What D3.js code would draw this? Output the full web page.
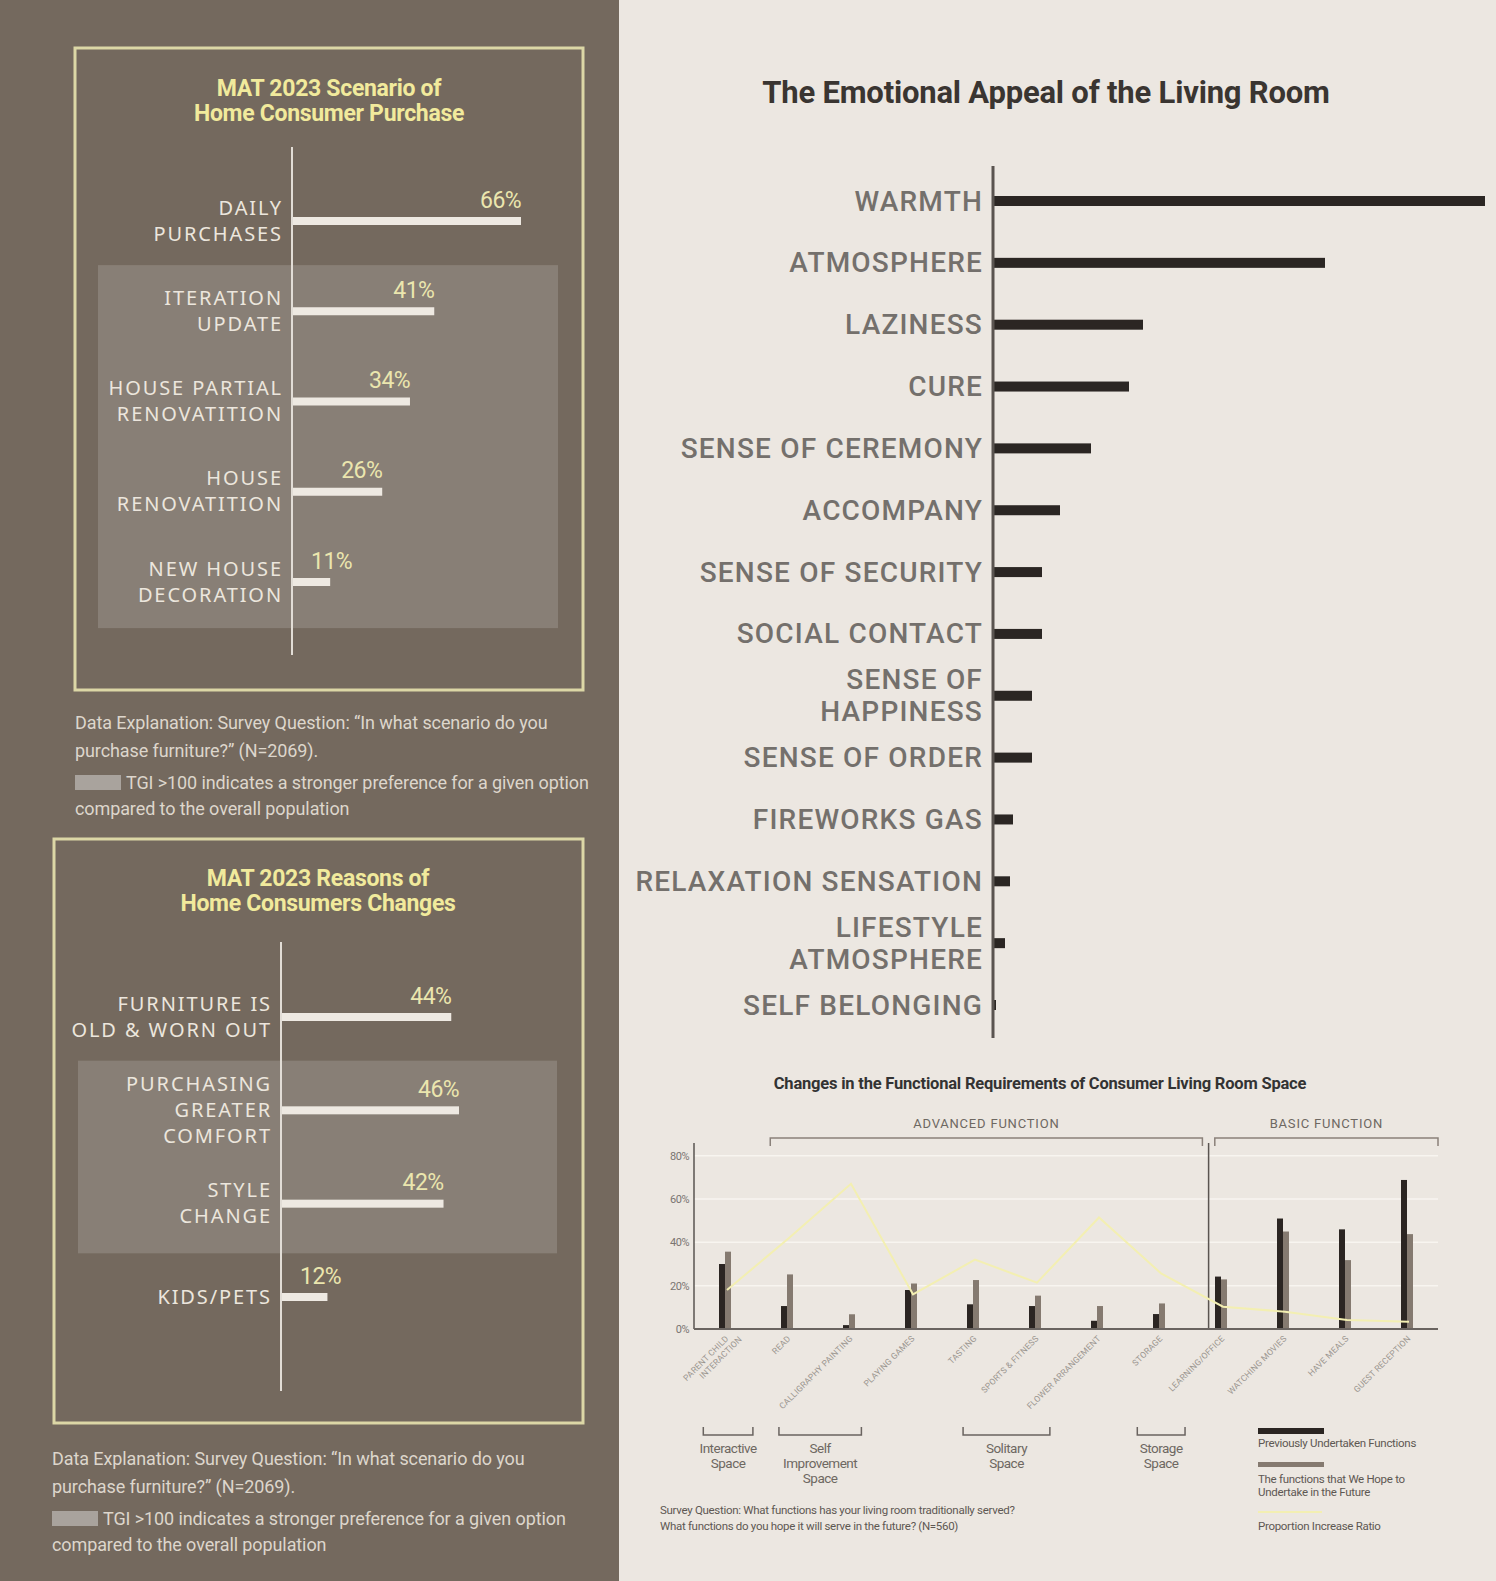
<!DOCTYPE html>
<html><head><meta charset="utf-8">
<script src="https://cdn.jsdelivr.net/npm/d3@7"></script>
<style>body{margin:0;background:#ece7e1} svg{display:block}</style>
</head><body><svg id="c" width="1496" height="1581"></svg>
<script>
// ---------- DATA ----------
const purchaseCategories = [["DAILY","PURCHASES"],["ITERATION","UPDATE"],["HOUSE PARTIAL","RENOVATITION"],["HOUSE","RENOVATITION"],["NEW HOUSE","DECORATION"]];
const purchaseValues = [66,41,34,26,11];
const purchaseTGI = [false,true,true,true,true];

const changeCategories = [["FURNITURE IS","OLD & WORN OUT"],["PURCHASING","GREATER","COMFORT"],["STYLE","CHANGE"],["KIDS/PETS"]];
const changeValues = [44,46,42,12];
const changeTGI = [false,true,true,false];

const emotionCategories = [["WARMTH"],["ATMOSPHERE"],["LAZINESS"],["CURE"],["SENSE OF CEREMONY"],["ACCOMPANY"],["SENSE OF SECURITY"],["SOCIAL CONTACT"],["SENSE OF","HAPPINESS"],["SENSE OF ORDER"],["FIREWORKS GAS"],["RELAXATION SENSATION"],["LIFESTYLE","ATMOSPHERE"],["SELF BELONGING"]];
const emotionValues = [49.2,33.2,15.0,13.6,9.8,6.7,4.9,4.9,3.9,3.9,2.0,1.7,1.2,0.3];

const functionCategories = [["PARENT CHILD","INTERACTION"],["READ"],["CALLIGRAPHY PAINTING"],["PLAYING GAMES"],["TASTING"],["SPORTS & FITNESS"],["FLOWER ARRANGEMENT"],["STORAGE"],["LEARNING/OFFICE"],["WATCHING MOVIES"],["HAVE MEALS"],["GUEST RECEPTION"]];
const previousValues = [30,10.6,1.8,18,11.4,10.6,3.8,6.9,24.2,51,46,68.8];
const futureValues   = [35.7,25.2,6.8,21,22.6,15.4,10.6,11.8,22.9,45,31.8,43.8];
const increaseRatio  = [18,42,67,16,32,21.4,51.5,25.7,10.3,8,4.2,3.4];
const yTicks = [0,20,40,60,80];
const functionGroups = [{name:"ADVANCED FUNCTION",from:0.73,to:7.7},{name:"BASIC FUNCTION",from:7.9,to:11.5}];
const spaceGroups = [{name:["Interactive","Space"],from:-0.35,to:0.45},{name:["Self","Improvement","Space"],from:0.87,to:2.2},{name:["Solitary","Space"],from:3.84,to:5.24},{name:["Storage","Space"],from:6.65,to:7.42}];

// ---------- DRAW ----------
const svg = d3.select("#c");
const LEFT_BG="#74695e", FRAME="#dcd7a6", YEL="#f1ea9c", LIGHT="#ece6dd";

svg.append("rect").attr("x",0).attr("y",0).attr("width",1496).attr("height",1581).attr("fill","#ece7e1");
svg.append("rect").attr("x",0).attr("y",0).attr("width",619).attr("height",1581).attr("fill",LEFT_BG);

function leftPanel(o){
  const g = svg.append("g");
  const y = d3.scalePoint().domain(d3.range(o.cats.length)).range(o.yRange);
  const step = y.step();
  const x = d3.scaleLinear().domain([0,o.maxV]).range([o.axisX,o.maxX]);
  const hi = o.tgi.map((d,i)=>d?i:-1).filter(i=>i>=0);
  g.append("rect").attr("x",o.box[0]).attr("width",o.box[1]-o.box[0])
    .attr("y",y(hi[0])-step*0.5-o.boxPad).attr("height",y(hi[hi.length-1])-y(hi[0])+step+o.boxPad*2)
    .attr("fill","rgba(255,255,255,0.15)");
  g.append("rect").attr("x",o.frame[0]).attr("y",o.frame[1]).attr("width",o.frame[2]-o.frame[0]).attr("height",o.frame[3]-o.frame[1])
    .attr("fill","none").attr("stroke",FRAME).attr("stroke-width",3);
  o.title.forEach((t,i)=>g.append("text").attr("x",o.titleX).attr("y",o.titleY+i*25).attr("text-anchor","middle")
    .attr("dominant-baseline","central").attr("font-family","Roboto").attr("font-weight",700).attr("font-size",23)
    .attr("letter-spacing",-0.3).attr("fill",YEL).text(t));
  g.append("line").attr("x1",o.axisX).attr("x2",o.axisX).attr("y1",o.axisY[0]).attr("y2",o.axisY[1]).attr("stroke","#e2ddd6").attr("stroke-width",2);
  g.selectAll(".bar").data(o.vals).join("rect").attr("x",o.axisX+1).attr("y",(d,i)=>y(i)-4)
    .attr("width",d=>x(d)-o.axisX-1).attr("height",8).attr("fill","#eee9e2");
  g.selectAll(".val").data(o.vals).join("text").attr("x",d=>Math.max(x(d),o.axisX+60)).attr("y",(d,i)=>y(i)-21)
    .attr("text-anchor","end").attr("dominant-baseline","central").attr("font-family","Roboto").attr("font-size",23)
    .attr("letter-spacing",-0.6).attr("fill","#ebe6ae").text(d=>d+"%");
  o.cats.forEach((lines,i)=>{
    const n=lines.length, lh=26;
    lines.forEach((t,j)=>g.append("text").attr("x",o.axisX-9).attr("y",y(i)-1+(j-(n-1)/2)*lh)
      .attr("text-anchor","end").attr("dominant-baseline","central").attr("font-family","Noto Sans").attr("font-size",20)
      .attr("letter-spacing",1.9).attr("fill",LIGHT).text(t));
  });
  const ex = o.expl;
  const tx = (xx,yy,t)=>g.append("text").attr("x",xx).attr("y",yy).attr("dominant-baseline","central").attr("font-family","Roboto")
     .attr("font-size",18).attr("letter-spacing",-0.1).attr("fill","#ddd6cc").text(t);
  tx(ex[0],ex[1],"Data Explanation: Survey Question: \u201cIn what scenario do you");
  tx(ex[0],ex[1]+28,"purchase furniture?\u201d (N=2069).");
  g.append("rect").attr("x",ex[0]).attr("y",ex[1]+53).attr("width",46).attr("height",15).attr("fill","#a9a39d");
  tx(ex[0]+51,ex[1]+60,"TGI >100 indicates a stronger preference for a given option");
  tx(ex[0],ex[1]+86,"compared to the overall population");
}

leftPanel({cats:purchaseCategories,vals:purchaseValues,tgi:purchaseTGI,yRange:[221,582],maxV:66,axisX:292,maxX:521,
  box:[98,558],boxPad:1,frame:[75,48,583,690],title:["MAT 2023 Scenario of","Home Consumer Purchase"],titleX:329,titleY:88,
  axisY:[147,655],expl:[75,722]});
leftPanel({cats:changeCategories,vals:changeValues,tgi:changeTGI,yRange:[1017,1297],maxV:46,axisX:281,maxX:459,
  box:[78,557],boxPad:3,frame:[54,839,583,1423],title:["MAT 2023 Reasons of","Home Consumers Changes"],titleX:318,titleY:878,
  axisY:[942,1391],expl:[52,1458]});

// ---------- EMOTIONAL APPEAL ----------
(function(){
  const g = svg.append("g");
  g.append("text").attr("x",1046).attr("y",92).attr("text-anchor","middle").attr("dominant-baseline","central")
    .attr("font-family","Roboto").attr("font-weight",700).attr("font-size",31).attr("letter-spacing",-0.2).attr("fill","#3a3531")
    .text("The Emotional Appeal of the Living Room");
  const ax = 993;
  const x = d3.scaleLinear().domain([0,emotionValues[0]]).range([ax,1485]);
  const y = d3.scalePoint().domain(d3.range(emotionCategories.length)).range([201,1005]);
  g.selectAll(".eb").data(emotionValues).join("rect").attr("x",ax).attr("y",(d,i)=>y(i)-5)
    .attr("width",d=>x(d)-ax).attr("height",10).attr("fill","#2b2623");
  g.append("line").attr("x1",ax).attr("x2",ax).attr("y1",166).attr("y2",1038).attr("stroke","#5a5450").attr("stroke-width",3);
  emotionCategories.forEach((lines,i)=>{
    const n=lines.length;
    lines.forEach((t,j)=>g.append("text").attr("x",ax-10).attr("y",y(i)+(j-(n-1)/2)*32)
      .attr("text-anchor","end").attr("dominant-baseline","central").attr("font-family","Roboto").attr("font-weight",500).attr("font-size",28)
      .attr("letter-spacing",1.2).attr("fill","#74706c").text(t));
  });
})();

// ---------- FUNCTIONAL REQUIREMENTS ----------
(function(){
  const g = svg.append("g");
  const x0=694, x1=1438, yb=1329;
  const x = d3.scaleBand().domain(d3.range(functionCategories.length)).range([x0,x1]);
  const y = d3.scaleLinear().domain([0,80]).range([yb,1155.7]);
  const pos = d3.scaleLinear().domain([0,1]).range([x(0)+x.bandwidth()/2, x(1)+x.bandwidth()/2]);
  g.append("text").attr("x",1040).attr("y",1083).attr("text-anchor","middle").attr("dominant-baseline","central")
    .attr("font-family","Roboto").attr("font-weight",700).attr("font-size",16.5).attr("letter-spacing",-0.2).attr("fill","#333")
    .text("Changes in the Functional Requirements of Consumer Living Room Space");
  g.selectAll(".gl").data(yTicks.filter(d=>d>0)).join("line").attr("x1",x0).attr("x2",x1).attr("y1",d=>y(d)).attr("y2",d=>y(d))
    .attr("stroke","#f8f5f0").attr("stroke-width",1.5);
  const ya = g.append("g").attr("transform",`translate(${x0},0)`).call(d3.axisLeft(y).tickValues(yTicks).tickFormat(d=>d+"%").tickSize(0).tickPadding(5));
  ya.select(".domain").remove();
  ya.selectAll("text").attr("font-family","Roboto").attr("font-size",11).attr("letter-spacing",-0.5).attr("fill","#7a7571");
  g.append("line").attr("x1",x0).attr("x2",x0).attr("y1",1143).attr("y2",yb).attr("stroke","#5a5450").attr("stroke-width",1.5);
  const bw=6, c = i=>x(i)+x.bandwidth()/2;
  g.selectAll(".pb").data(previousValues).join("rect").attr("x",(d,i)=>c(i)-bw).attr("y",d=>y(d)).attr("width",bw).attr("height",d=>yb-y(d)).attr("fill","#2b2522");
  g.selectAll(".fb").data(futureValues).join("rect").attr("x",(d,i)=>c(i)).attr("y",d=>y(d)).attr("width",bw).attr("height",d=>yb-y(d)).attr("fill","#857a70");
  const dv = pos(7.8);
  g.append("line").attr("x1",dv).attr("x2",dv).attr("y1",1143).attr("y2",yb).attr("stroke","#5a5450").attr("stroke-width",1.5);
  g.append("path").datum(increaseRatio).attr("fill","none").attr("stroke","#f3efb2").attr("stroke-width",2)
    .attr("d",d3.line().x((d,i)=>c(i)+2).y(d=>y(d)));
  g.append("line").attr("x1",x0).attr("x2",x1).attr("y1",yb).attr("y2",yb).attr("stroke","#6a6460").attr("stroke-width",2);
  functionCategories.forEach((lines,i)=>{
    const t = g.append("text").attr("transform",`translate(${c(i)+2},${yb+8}) rotate(-45)`).attr("text-anchor","end")
      .attr("font-family","Roboto").attr("font-size",8.5).attr("letter-spacing",0.2).attr("fill","#9a958f");
    lines.forEach((s,j)=>t.append("tspan").attr("x",j*9).attr("dy",j?10:3).text(s));
  });
  functionGroups.forEach(gr=>{
    const a=pos(gr.from), b=pos(gr.to);
    g.append("path").attr("d",`M${a},1146V1138H${b}V1146`).attr("fill","none").attr("stroke","#8a817a").attr("stroke-width",1.5);
    g.append("text").attr("x",(a+b)/2).attr("y",1123).attr("text-anchor","middle").attr("dominant-baseline","central")
      .attr("font-family","Roboto").attr("font-size",13).attr("letter-spacing",0.8).attr("fill","#6e6862").text(gr.name);
  });
  spaceGroups.forEach(sg=>{
    const a = pos(sg.from), b = pos(sg.to);
    g.append("path").attr("d",`M${a},1427V1435H${b}V1427`).attr("fill","none").attr("stroke","#6a6460").attr("stroke-width",1.5);
    sg.name.forEach((s,j)=>g.append("text").attr("x",(a+b)/2).attr("y",1448+j*15).attr("text-anchor","middle").attr("dominant-baseline","central")
      .attr("font-family","Roboto").attr("font-size",13.5).attr("letter-spacing",-0.5).attr("fill","#6e6862").text(s));
  });
  ["Survey Question: What functions has your living room traditionally served?","What functions do you hope it will serve in the future? (N=560)"]
    .forEach((s,j)=>g.append("text").attr("x",660).attr("y",1510+j*16).attr("dominant-baseline","central").attr("font-family","Roboto")
      .attr("font-size",11.5).attr("letter-spacing",-0.3).attr("fill","#5e5853").text(s));
  const lx=1258;
  g.append("rect").attr("x",lx).attr("y",1428).attr("width",66).attr("height",6).attr("fill","#2b2522");
  g.append("rect").attr("x",lx).attr("y",1462).attr("width",66).attr("height",5).attr("fill","#857a70");
  g.append("line").attr("x1",lx).attr("x2",lx+64).attr("y1",1512).attr("y2",1512).attr("stroke","#f3efb2").attr("stroke-width",2);
  const lt=(yy,s)=>g.append("text").attr("x",lx).attr("y",yy).attr("dominant-baseline","central").attr("font-family","Roboto")
      .attr("font-size",11.5).attr("letter-spacing",-0.3).attr("fill","#5e5853").text(s);
  lt(1443,"Previously Undertaken Functions");
  lt(1479,"The functions that We Hope to");
  lt(1492,"Undertake in the Future");
  lt(1526,"Proportion Increase Ratio");
})();
</script></body></html>
